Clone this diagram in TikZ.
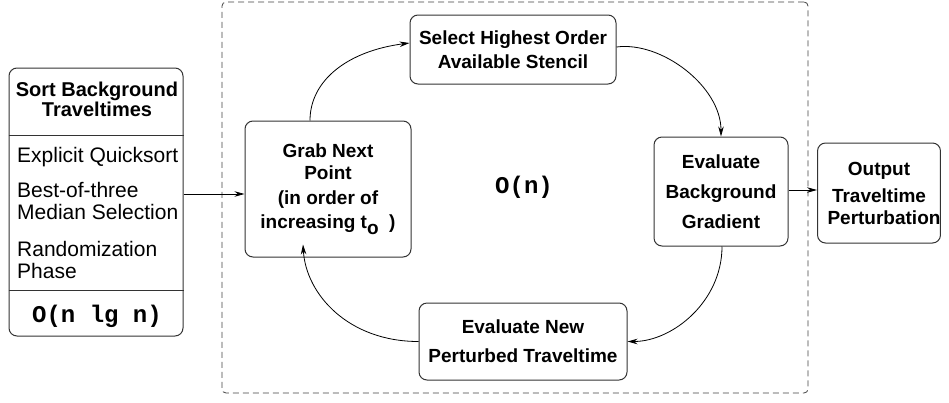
\documentclass[tikz,border=0pt]{standalone}
\usepackage{fontspec}
\setmainfont{Liberation Sans}
\newfontfamily\monofam{Liberation Mono}
\usetikzlibrary{arrows.meta}
\begin{document}
\begin{tikzpicture}[x=1pt,y=-1pt,
  box/.style={draw=black!80, line width=1pt, rounded corners=8pt, align=center, inner sep=0pt},
  lbl/.style={font=\fontsize{19}{#1}\selectfont\bfseries},
  item/.style={inner sep=0pt, align=left, font=\fontsize{21}{22}\selectfont},
  bigo/.style={inner sep=0pt, font=\fontsize{24}{24}\selectfont\monofam\bfseries},
  arr/.style={-{Stealth[length=10pt,width=5.5pt]}, line width=0.8pt},
  loopbox/.style={draw=black!75, line width=0.8pt, dash pattern=on 6pt off 4pt, rounded corners=4pt}]
\useasboundingbox (0,0) rectangle (949,402);

% dashed loop region
\node[loopbox, minimum width=586pt, minimum height=391pt] (loop) at (515,197.5) {};

% left sort box
\node[box, minimum width=174pt, minimum height=268pt] (sortbox) at (96,202) {};
\draw[draw=black!80, line width=1pt] (sortbox.west |- 0,135) -- (sortbox.east |- 0,135);
\draw[draw=black!80, line width=1pt] (sortbox.west |- 0,290) -- (sortbox.east |- 0,290);
\node[inner sep=0pt, align=center, font=\fontsize{20}{20}\selectfont\bfseries] (sorttitle) at (97,99) {Sort Background\\Traveltimes};
\node[item, anchor=base west] (it1) at (17,162) {Explicit Quicksort};
\node[item, anchor=west] (it2) at (17,201) {Best-of-three\\Median Selection};
\node[item, anchor=west] (it3) at (17,260) {Randomization\\Phase};
\node[bigo, anchor=base] (onlgn) at (97,322) {O(n lg n)};

% loop boxes
\node[box, lbl=24, minimum width=206pt, minimum height=69pt] (select) at (513,49.5) {Select Highest Order\\Available Stencil};
\node[box, lbl=22, minimum width=166pt, minimum height=136pt] (grab) at (328,189) {Grab Next\\Point\\[3pt](in order of\\[2pt]increasing t\raisebox{-6pt}{o}\ \ )};
\node[box, lbl=30, minimum width=134pt, minimum height=109pt] (evalbg) at (721,191.5) {Evaluate\\Background\\Gradient};
\node[box, lbl=29, minimum width=208pt, minimum height=77pt] (evalnew) at (523,341.5) {Evaluate New\\Perturbed Traveltime};
\node[box, lbl=24, minimum width=118pt, minimum height=100pt] (output) at (879,193) {Output\\[3pt]Traveltime\\[-2pt]\hspace*{10pt}Perturbation};

\node[bigo, anchor=base] (on) at (524,193) {O(n)};

% connectors
\coordinate (ya) at (0,194);
\coordinate (yb) at (0,190);
\draw[arr] (sortbox.east |- ya) -- (grab.west |- ya);
\draw[arr] (evalbg.east |- yb) -- (output.west |- yb);
\draw[arr] ([xshift=-18pt]grab.north) .. controls +(0,-40) and +(-62,8) .. ([yshift=6.5pt]select.west);
\draw[arr] ([yshift=2.5pt]select.east) .. controls +(45,-6) and +(0,-50) .. (evalbg.north);
\draw[arr] ([xshift=1pt]evalbg.south) .. controls +(0,55) and +(45,0) .. (evalnew.east);
\draw[arr] (evalnew.west) .. controls +(-70,0) and +(3,50) .. ([xshift=-25pt,yshift=13pt]grab.south);
\end{tikzpicture}
\end{document}
